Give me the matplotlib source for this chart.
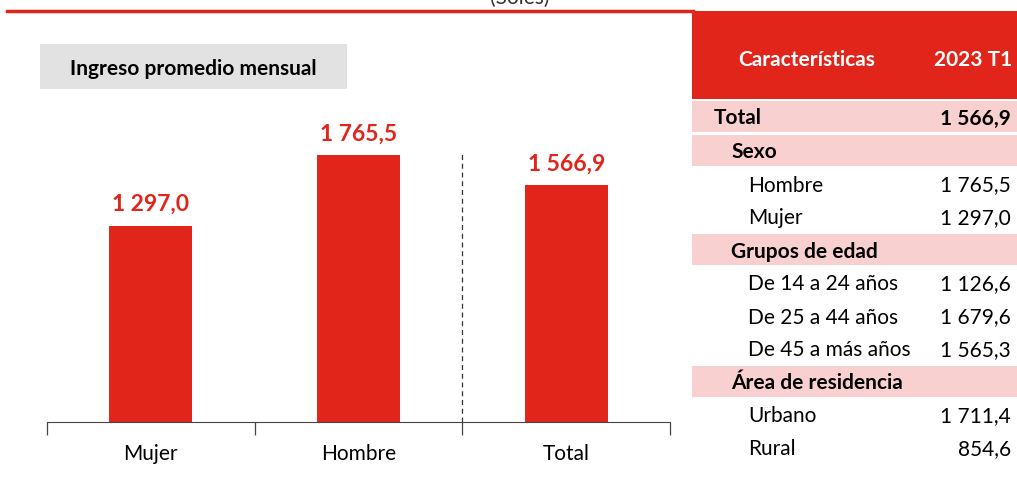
"""Ingreso promedio mensual: bar chart with side table."""

import matplotlib
matplotlib.use("Agg")
import matplotlib.pyplot as plt
from matplotlib.patches import Rectangle
from matplotlib.lines import Line2D

RED = "#E1251B"
PINK = "#F8D0CF"
GREY_BOX = "#E2E2E2"

categories = ["Mujer", "Hombre", "Total"]
values = [1297.0, 1765.5, 1566.9]

table_labels = ["Total", "Sexo", "Hombre", "Mujer", "Grupos de edad",
                "De 14 a 24 años", "De 25 a 44 años", "De 45 a más años",
                "Área de residencia", "Urbano", "Rural"]
table_values = [1566.9, None, 1765.5, 1297.0, None,
                1126.6, 1679.6, 1565.3, None, 1711.4, 854.6]
table_levels = [0, 1, 2, 2, 1, 2, 2, 2, 1, 2, 2]


def fmt(v):
    whole, dec = f"{v:.1f}".split(".")
    whole = f"{int(whole):,}".replace(",", " ")
    return f"{whole},{dec}"


plt.rcParams["font.family"] = ["Lato", "DejaVu Sans"]
W, H = 1017, 489
fig = plt.figure(figsize=(W / 100, H / 100), dpi=100)


def fx(px):
    return px / W


def fy(py):
    return 1 - py / H


# top rule and "(Soles)" subtitle cut at the edge, as in the source
fig.add_artist(Line2D([fx(7), fx(693)], [fy(12), fy(12)], color=RED, lw=2.5))
fig.text(fx(520), fy(-2), "(Soles)", ha="center", va="center", fontsize=15, color="#333333")

# grey title box
fig.add_artist(Rectangle((fx(40), fy(90)), fx(307), 45 / H, color=GREY_BOX, lw=0))
fig.text(fx(193), fy(69), "Ingreso promedio mensual", ha="center", va="center",
         fontsize=15, fontweight="bold")

# bar chart
ax = fig.add_axes([fx(47), fy(423), fx(623), 302 / H])
x = range(len(categories))
ax.bar(x, values, width=0.4, color=RED)
for xi, v in zip(x, values):
    ax.text(xi, v + 80, fmt(v), ha="center", va="bottom", color=RED,
            fontsize=16.5, fontweight="bold")
ax.plot([1.5, 1.5], [0, 1790], color="#333333", lw=0.9, ls=(0, (4, 3)))
ax.set_xlim(-0.5, 2.5)
ax.set_ylim(0, 2000)
ax.set_yticks([])
ax.set_xticks(list(x))
ax.set_xticklabels(categories, fontsize=15)
ax.tick_params(axis="x", which="major", length=0, pad=15)
ax.set_xticks([-0.5, 0.5, 1.5, 2.5], minor=True)
ax.tick_params(axis="x", which="minor", length=9, width=0.9, color="#444444")
for side in ("left", "right", "top"):
    ax.spines[side].set_visible(False)
ax.spines["bottom"].set_color("#444444")

# side table
fig.add_artist(Rectangle((fx(692), fy(100)), fx(325), 88 / H, color=RED, lw=0))
fig.text(fx(807), fy(60), "Características", ha="center", va="center",
         color="white", fontsize=15, fontweight="bold")
fig.text(fx(1012), fy(60), "2023 T1", ha="right", va="center",
         color="white", fontsize=15, fontweight="bold")

row_h = 33
indent = {0: 714, 1: 731, 2: 748}
for i, (lab, val, lvl) in enumerate(zip(table_labels, table_values, table_levels)):
    top = 101 + i * row_h + (1 if i > 0 else 0)
    mid = top + row_h / 2 + 1
    if lvl < 2:
        fig.add_artist(Rectangle((fx(692), fy(top + row_h - 1)), fx(325), (row_h - 2) / H,
                                 color=PINK, lw=0))
    weight = "bold" if lvl < 2 else "normal"
    fig.text(fx(indent[lvl]), fy(mid), lab, ha="left", va="center",
             fontsize=15, fontweight=weight)
    if val is not None:
        fig.text(fx(1011), fy(mid), fmt(val), ha="right", va="center",
                 fontsize=15, fontweight=weight)

fig.savefig("out.png", dpi=100)
